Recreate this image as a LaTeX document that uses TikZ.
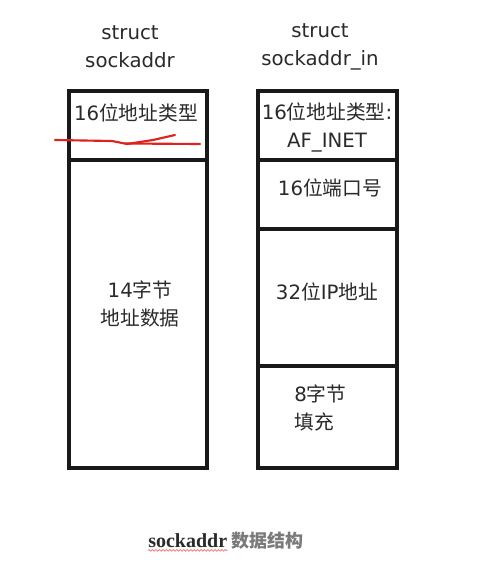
\documentclass[tikz,border=0pt]{standalone}
\usepackage{fontspec}
\setmainfont{DejaVu Sans}
\newfontfamily\cjk{Noto Sans CJK SC}
\newfontfamily\capserif{Liberation Serif}
\usetikzlibrary{decorations.pathmorphing}
\definecolor{inkgray}{HTML}{2A2A2A}
\definecolor{capgray}{HTML}{7A7A7A}
\definecolor{penred}{HTML}{E0221E}
\definecolor{spellred}{HTML}{F08A8A}
\tikzset{
  cell/.style={draw=black!90, line width=2.3pt, fill=white, inner sep=0pt},
  lbl/.style={inner sep=0pt, text=inkgray, font=\fontsize{14.8pt}{21pt}\selectfont, align=center},
}
\begin{document}
\begin{tikzpicture}[x=0.75pt, y=-0.75pt]
\useasboundingbox[fill=white] (0,0) rectangle (500,567);
% left structure
\node[cell, minimum width=103.5pt, minimum height=51.75pt] (lhead) at (138,125.5) {};
\node[cell, minimum width=103.5pt, minimum height=231pt] (lbody) at (138,314) {};
% right structure
\node[cell, minimum width=104.25pt, minimum height=51.75pt] (rhead) at (327.5,125.5) {};
\node[cell, minimum width=104.25pt, minimum height=51.75pt] (rport) at (327.5,194.5) {};
\node[cell, minimum width=104.25pt, minimum height=102.75pt] (rip) at (327.5,297.5) {};
\node[cell, minimum width=104.25pt, minimum height=76.5pt] (rpad) at (327.5,417) {};
% titles
\node[lbl] (ltitle) at (130,46.5) {struct\\sockaddr};
\node[lbl] (rtitle) at (320,46.5) {struct\\sockaddr\_in};
% labels
\node[lbl] (lheadtxt) at (136,113) {16{\cjk 位地址类型}};
\node[lbl] (rheadtxt) at (327,127.5) {16{\cjk 位地址类型}:\\AF\_INET};
\node[lbl] (lbodytxt) at (140,304) {14{\cjk 字节}\\{\cjk 地址数据}};
\node[lbl] (rporttxt) at (330,188) {16{\cjk 位端口号}};
\node[lbl] (riptxt) at (327,292) {32{\cjk 位}IP{\cjk 地址}};
\node[lbl, anchor=west, align=left] (rpadtxt) at (294,407.5) {8{\cjk 字节}\\{\cjk 填充}};
% red pen stroke
\draw[penred, line width=1.6pt, line cap=round, line join=round]
  (55,140) -- (112,141) -- (127,144) -- (153,140) -- (175,135);
\draw[penred, line width=1.6pt, line cap=round]
  (125,143.5) -- (200,144);
% caption
\node[anchor=base west, inner sep=0pt, text=inkgray, font=\capserif\bfseries\fontsize{15pt}{17pt}\selectfont] (capword) at (148,547) {sockaddr};
\node[anchor=base west, inner sep=0pt, text=capgray, font=\cjk\bfseries\fontsize{13.5pt}{16pt}\selectfont] (captxt) at ([xshift=3pt]capword.base east) {数据结构};
\draw[spellred, line width=0.7pt, decorate, decoration={snake, amplitude=0.6pt, segment length=2.6pt}]
  ([yshift=-2.5pt]capword.base west) -- ([yshift=-2.5pt]capword.base east);
\end{tikzpicture}
\end{document}
